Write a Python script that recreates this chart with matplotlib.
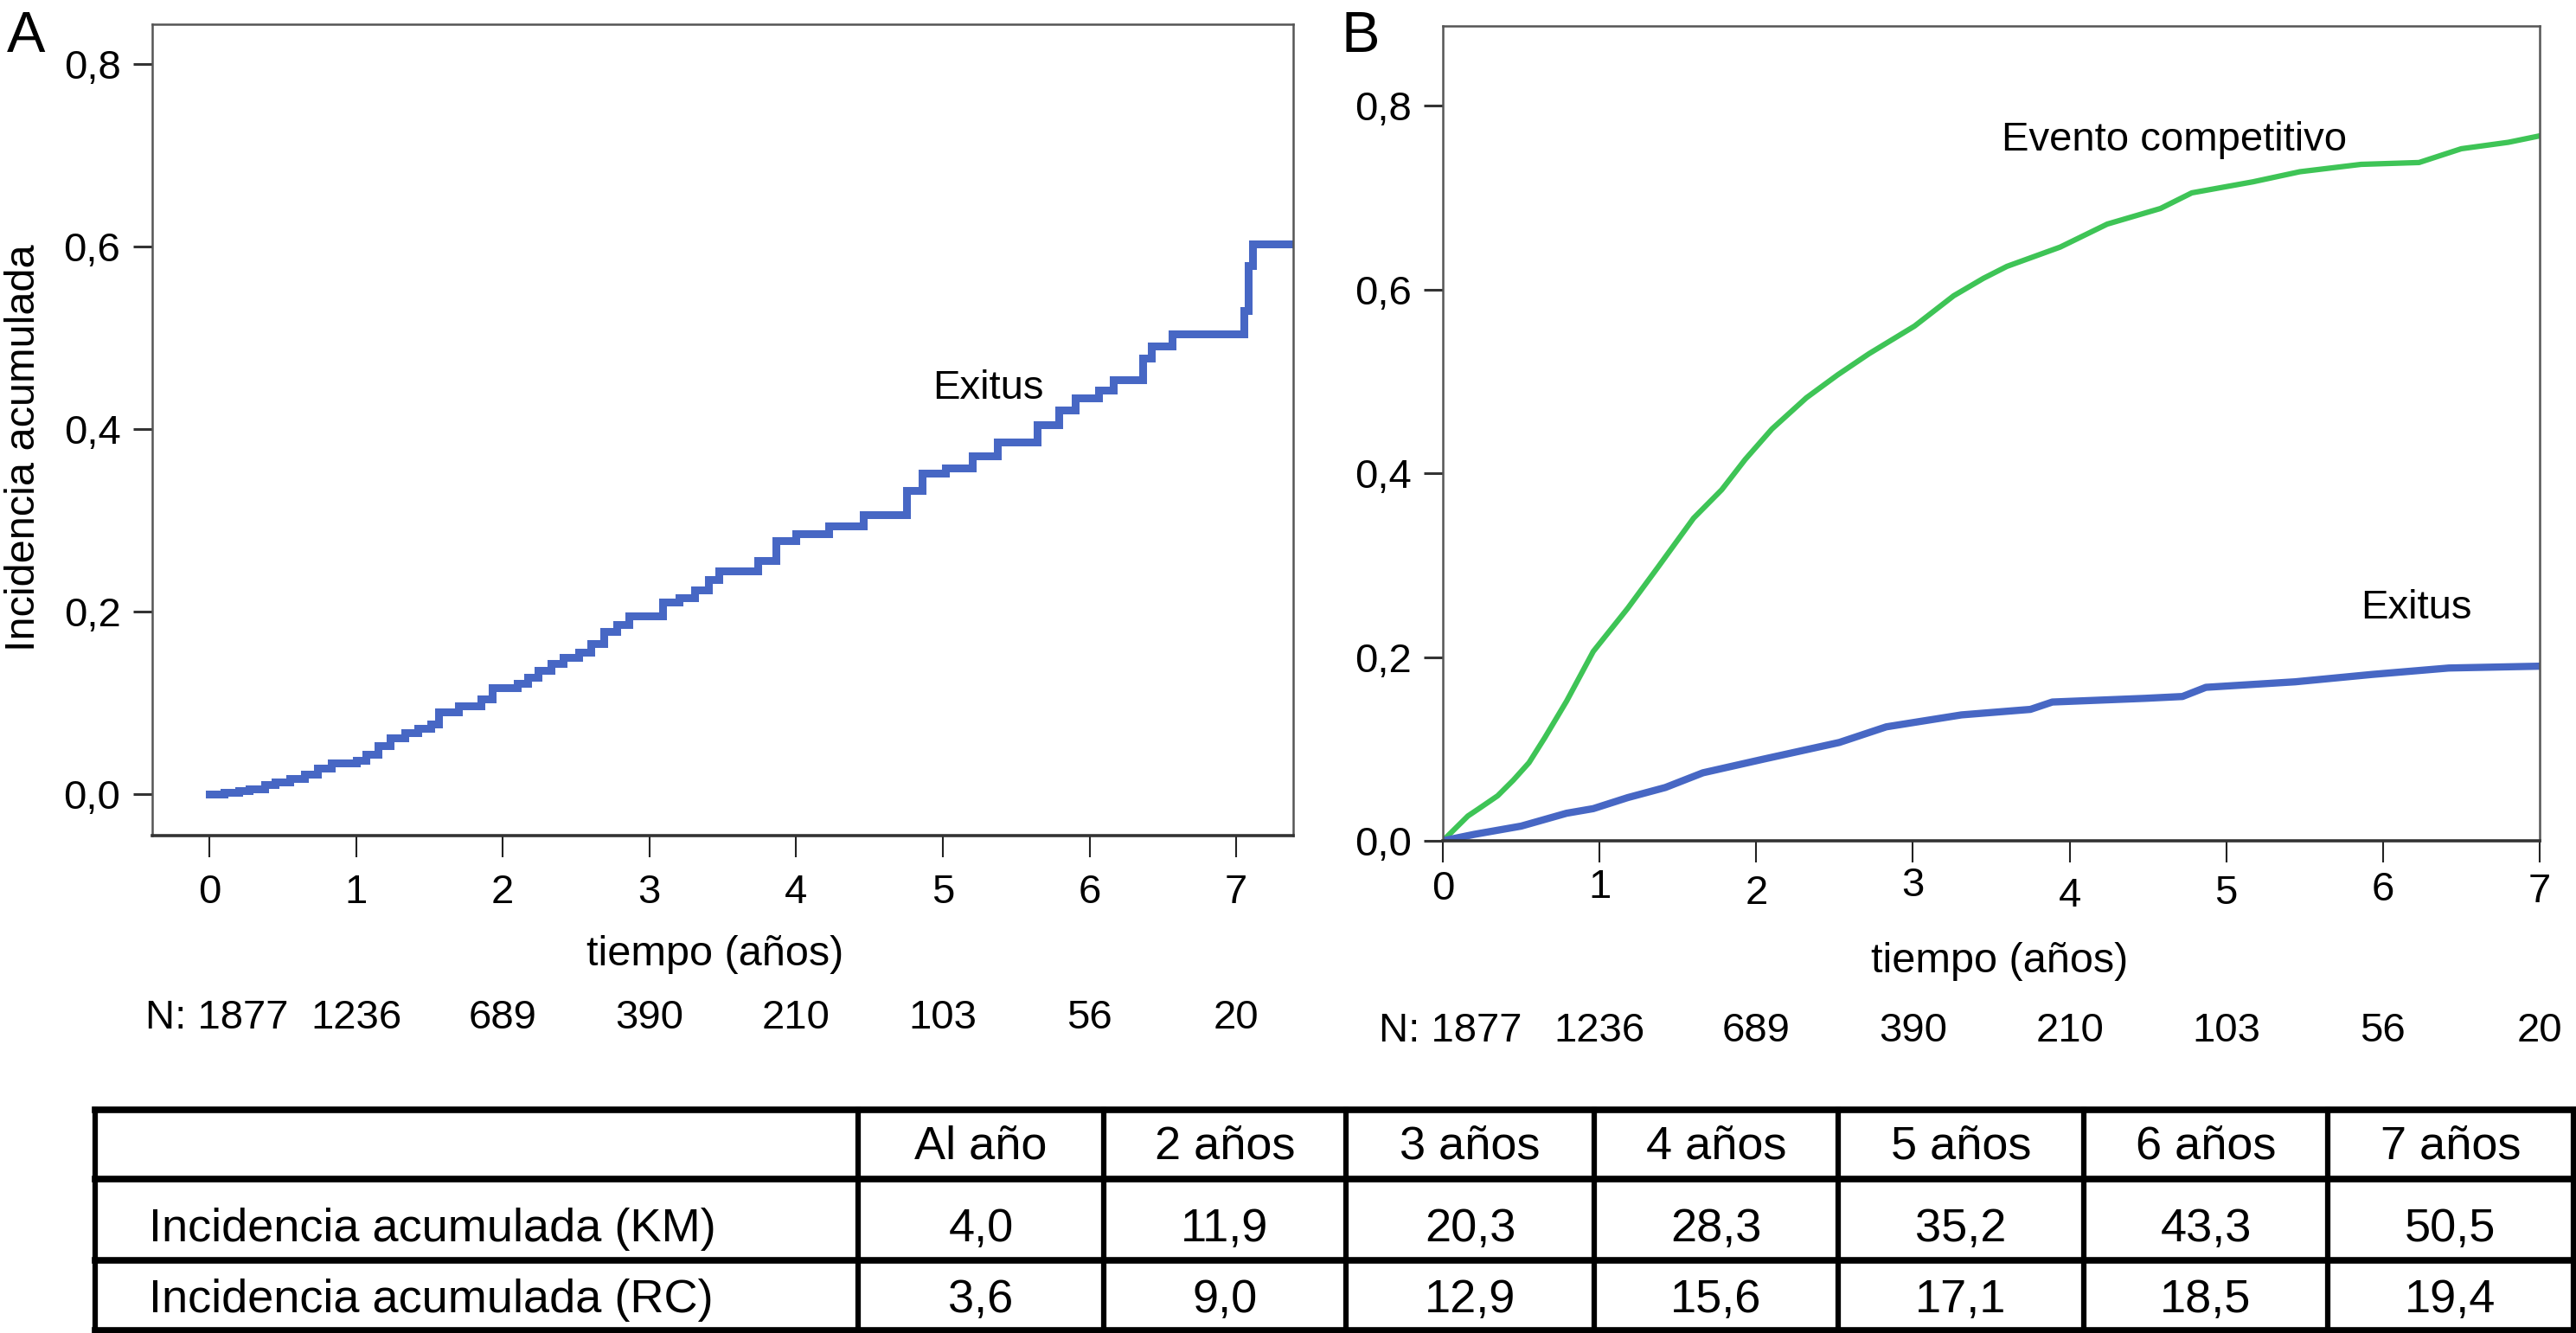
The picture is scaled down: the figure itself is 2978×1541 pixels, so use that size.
import matplotlib
matplotlib.use("Agg")
import matplotlib.pyplot as plt
import matplotlib.transforms as mtransforms
import numpy as np

plt.rcParams['font.family'] = ['Liberation Sans', 'DejaVu Sans']

# ─── Datos ──────────────────────────────────────────────────────────────────
# Panel A: Kaplan-Meier (1 - S) para exitus
t_km   = [0, 0.1, 0.2, 0.27, 0.38, 0.45, 0.55, 0.65, 0.74, 0.83, 1.0, 1.07, 1.15,
          1.23, 1.33, 1.42, 1.51, 1.56, 1.7, 1.85, 1.93, 2.1, 2.17, 2.24, 2.33,
          2.41, 2.52, 2.6, 2.69, 2.78, 2.86, 3.09, 3.2, 3.31, 3.4, 3.47, 3.74,
          3.86, 4.0, 4.22, 4.46, 4.75, 4.86, 5.02, 5.2, 5.37, 5.64, 5.79, 5.9,
          6.06, 6.16, 6.36, 6.42, 6.56, 7.05, 7.08, 7.11, 7.39]
inc_km = [0, 0.002, 0.004, 0.006, 0.010, 0.013, 0.017, 0.022, 0.028, 0.034, 0.037,
          0.044, 0.053, 0.062, 0.067, 0.072, 0.077, 0.090, 0.097, 0.104, 0.117,
          0.121, 0.128, 0.136, 0.143, 0.150, 0.155, 0.165, 0.178, 0.186, 0.195,
          0.210, 0.215, 0.224, 0.235, 0.245, 0.256, 0.278, 0.285, 0.294, 0.306,
          0.333, 0.352, 0.357, 0.371, 0.386, 0.405, 0.421, 0.434, 0.443, 0.454,
          0.478, 0.491, 0.504, 0.530, 0.579, 0.603, 0.603]

# Panel B: riesgos competitivos
t_comp   = [0, 0.16, 0.23, 0.35, 0.45, 0.55, 0.65, 0.79, 0.96, 1.18, 1.37, 1.6,
            1.78, 1.93, 2.10, 2.32, 2.52, 2.72, 3.01, 3.26, 3.45, 3.6, 3.94, 4.24,
            4.58, 4.78, 5.17, 5.47, 5.86, 6.23, 6.5, 6.8, 7.0]
inc_comp = [0, 0.027, 0.035, 0.049, 0.066, 0.085, 0.112, 0.152, 0.206, 0.253,
            0.297, 0.351, 0.382, 0.415, 0.448, 0.482, 0.507, 0.530, 0.560, 0.593,
            0.612, 0.625, 0.646, 0.671, 0.688, 0.705, 0.717, 0.728, 0.736, 0.738,
            0.753, 0.760, 0.767]

t_rc   = [0, 0.2, 0.5, 0.79, 0.96, 1.18, 1.42, 1.66, 2.05, 2.53, 2.83, 3.31, 3.75,
          3.89, 4.48, 4.72, 4.87, 5.44, 5.93, 6.42, 7.0]
inc_rc = [0, 0.007, 0.016, 0.030, 0.035, 0.047, 0.058, 0.074, 0.089, 0.107, 0.124,
          0.137, 0.143, 0.151, 0.155, 0.157, 0.167, 0.173, 0.181, 0.188, 0.190]

anios    = [0, 1, 2, 3, 4, 5, 6, 7]
n_riesgo = [1877, 1236, 689, 390, 210, 103, 56, 20]
yticks   = [0.0, 0.2, 0.4, 0.6, 0.8]

# Tabla
cols_tabla  = ["Al año", "2 años", "3 años", "4 años", "5 años", "6 años", "7 años"]
filas_tabla = ["Incidencia acumulada (KM)", "Incidencia acumulada (RC)"]
tabla_km    = [4.0, 11.9, 20.3, 28.3, 35.2, 43.3, 50.5]
tabla_rc    = [3.6, 9.0, 12.9, 15.6, 17.1, 18.5, 19.4]

# ─── Estilo ─────────────────────────────────────────────────────────────────
W, H = 2978, 1541
C_AZUL  = "#4767c4"
C_VERDE = "#3ec456"
C_SPINE = "#555555"
FS = 34

def fx(px):
    return px / W

def fy(py):
    return 1 - py / H

def coma(v, nd=1):
    return f"{v:.{nd}f}".replace(".", ",")

fig = plt.figure(figsize=(W / 100, H / 100), dpi=100)

ax_a = fig.add_axes([fx(175.5), fy(966), fx(1495 - 175.5), (966 - 28) / H])
ax_b = fig.add_axes([fx(1668), fy(972), fx(2936 - 1668), (972 - 30) / H])

for ax in (ax_a, ax_b):
    for s in ax.spines.values():
        s.set_color(C_SPINE)
        s.set_linewidth(1.8)
    ax.spines["bottom"].set_color("#333333")
    ax.spines["bottom"].set_linewidth(2.6)
    ax.set_xticks(anios)
    ax.set_xticklabels([str(a) for a in anios])
    ax.set_yticks(yticks)
    ax.set_yticklabels([coma(v) for v in yticks])
    ax.tick_params(axis="y", direction="out", length=16, width=2.2,
                   color="#333333", labelsize=FS, pad=10)

ax_a.tick_params(axis="x", direction="out", length=18, width=1.5,
                 color="#222222", labelsize=FS, pad=14)
ax_b.tick_params(axis="x", direction="out", length=18, width=1.5,
                 color="#222222", labelsize=FS, pad=8)

# las etiquetas de B bailan un poco en vertical en el original
desfase_b = [-2, -4, 3, -6, 6, 3, -1, 1]
for lab, d in zip(ax_b.get_xticklabels(), desfase_b):
    lab.set_transform(lab.get_transform() +
                      mtransforms.ScaledTranslation(0, -d / 100, fig.dpi_scale_trans))

# Panel A
ax_a.plot(t_km, inc_km, drawstyle="steps-post", color=C_AZUL, lw=6.5,
          solid_joinstyle="miter")
ax_a.set_xlim(-0.392, 7.388)
ax_a.set_ylim(-0.0455, 0.8436)
ax_a.text(5.31, 0.433, "Exitus", fontsize=FS, ha="center", va="baseline")

# Panel B
ax_b.plot(t_comp, inc_comp, color=C_VERDE, lw=4.5)
ax_b.plot(t_rc, inc_rc, color=C_AZUL, lw=6)
ax_b.set_xlim(0, 7)
ax_b.set_ylim(0, 0.8866)
ax_b.text(4.67, 0.751, "Evento competitivo", fontsize=FS, ha="center", va="baseline")
ax_b.text(6.21, 0.242, "Exitus", fontsize=FS, ha="center", va="baseline")

# N en riesgo
for ax, yn in ((ax_a, -0.225), (ax_b, -0.2335)):
    tr = ax.get_xaxis_transform()
    for i, (a, n) in enumerate(zip(anios, n_riesgo)):
        txt = f"N: {n}" if i == 0 else str(n)
        ax.text(a + (0.05 if i == 0 else 0), yn, txt, transform=tr, fontsize=FS,
                ha="center", va="center", clip_on=False)

# Etiquetas
fig.text(fx(28), fy(518), "Incidencia acumulada", rotation=90, fontsize=35,
         ha="center", va="center")
fig.text(fx(827), fy(1103), "tiempo (años)", fontsize=35, ha="center", va="center")
fig.text(fx(2312), fy(1112), "tiempo (años)", fontsize=35, ha="center", va="center")
fig.text(fx(8), fy(60), "A", fontsize=48, ha="left", va="baseline")
fig.text(fx(1550), fy(60), "B", fontsize=48, ha="left", va="baseline")

# ─── Tabla ──────────────────────────────────────────────────────────────────
ax_t = fig.add_axes([fx(110), fy(1538), fx(2975 - 110), (1538 - 1283) / H])
ax_t.set_axis_off()
col_edges = [0, 882, 1166, 1446, 1733, 2015, 2299, 2581, 2865]
row_edges = [0, 80, 174, 255]
ax_t.set_xlim(0, col_edges[-1])
ax_t.set_ylim(row_edges[-1], 0)

for y in row_edges:
    ax_t.plot([0, col_edges[-1]], [y, y], color="black", lw=5.5,
              solid_capstyle="projecting", clip_on=False)
for x in col_edges:
    ax_t.plot([x, x], [0, row_edges[-1]], color="black", lw=4.5,
              solid_capstyle="projecting", clip_on=False)

FT = 39
base_rows = [57, 152, 234]
centros = [(col_edges[i + 1] + col_edges[i + 2]) / 2 for i in range(len(cols_tabla))]
for c, lab in zip(centros, cols_tabla):
    ax_t.text(c, base_rows[0], lab, fontsize=FT, ha="center", va="baseline")
for r, (nombre, vals) in enumerate(zip(filas_tabla, (tabla_km, tabla_rc))):
    ax_t.text(62, base_rows[r + 1], nombre, fontsize=FT, ha="left", va="baseline")
    for c, v in zip(centros, vals):
        ax_t.text(c, base_rows[r + 1], coma(v), fontsize=FT, ha="center", va="baseline")

fig.savefig("out.png", dpi=100, facecolor="white")
